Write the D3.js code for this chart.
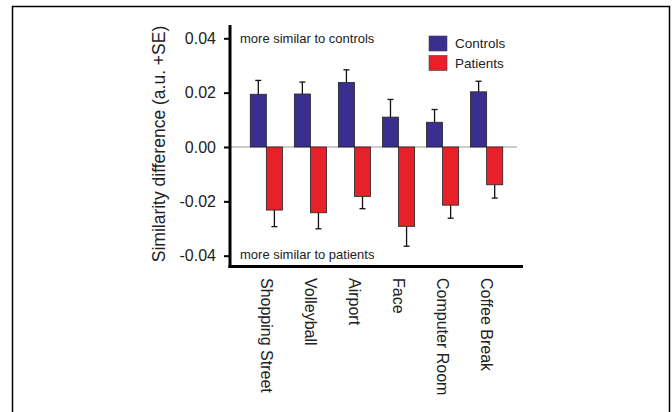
<!DOCTYPE html>
<html>
<head>
<meta charset="utf-8">
<script src="https://cdn.jsdelivr.net/npm/d3@7"></script>
<style>
  body { margin: 0; background: #fff; }
  svg { display: block; font-family: "Liberation Sans", Arial, sans-serif; }
</style>
</head>
<body>
<svg id="chart" width="672" height="412"></svg>
<script>
// data
const scenes = ["Shopping Street", "Volleyball", "Airport", "Face", "Computer Room", "Coffee Break"]
const controls = [0.0194, 0.0195, 0.0237, 0.0110, 0.0091, 0.0203]
const controls_se = [0.0051, 0.0044, 0.0047, 0.0065, 0.0047, 0.0039]
const patients = [-0.0232, -0.0242, -0.0182, -0.0292, -0.0214, -0.0139]
const patients_se = [0.0061, 0.0059, 0.0045, 0.0073, 0.0048, 0.0049]
const yTicks = [-0.04, -0.02, 0, 0.02, 0.04]
const groups = ["Controls", "Patients"]

const colors = { Controls: "#3a2f8e", Patients: "#e8202a" }

let svg = d3.select("#chart")

// outer frame (open at the bottom)
svg.append("path")
    .attr("d", "M12.5,412V6.5H669.5V412")
    .attr("fill", "none")
    .attr("stroke", "#000")
    .attr("stroke-width", 1.5)

let x0 = 230, x1 = 523
let y = d3.scaleLinear()
    .domain([-0.04, 0.04])
    .range([255.7, 38.3])

let x = d3.scaleBand()
    .domain(scenes)
    .range([x0, x1])
    .paddingInner(0.27)
    .paddingOuter(0.46)

let xs = d3.scaleBand()
    .domain(groups)
    .range([0, x.bandwidth()])

let rows = scenes.map((s, i) => [
    { scene: s, group: "Controls", v: controls[i], se: controls_se[i] },
    { scene: s, group: "Patients", v: patients[i], se: patients_se[i] }
]).flat()

// zero line
svg.append("line")
    .attr("x1", x0).attr("x2", 517)
    .attr("y1", y(0)).attr("y2", y(0))
    .attr("stroke", "#999")
    .attr("stroke-width", 1)

// error bars (drawn first so bars sit over the stem)
let err = svg.append("g")
    .selectAll("g")
    .data(rows)
    .join("g")
    .attr("stroke", "#111")
    .attr("stroke-width", 1.3)

err.append("line")
    .attr("x1", d => x(d.scene) + xs(d.group) + xs.bandwidth() / 2)
    .attr("x2", d => x(d.scene) + xs(d.group) + xs.bandwidth() / 2)
    .attr("y1", d => y(d.v))
    .attr("y2", d => y(d.v + Math.sign(d.v) * d.se))

err.append("line")
    .attr("x1", d => x(d.scene) + xs(d.group) + xs.bandwidth() / 2 - 3)
    .attr("x2", d => x(d.scene) + xs(d.group) + xs.bandwidth() / 2 + 3)
    .attr("y1", d => y(d.v + Math.sign(d.v) * d.se))
    .attr("y2", d => y(d.v + Math.sign(d.v) * d.se))

svg.append("g")
    .selectAll("rect")
    .data(rows)
    .join("rect")
    .attr("x", d => x(d.scene) + xs(d.group))
    .attr("width", xs.bandwidth())
    .attr("y", d => Math.min(y(d.v), y(0)))
    .attr("height", d => Math.abs(y(d.v) - y(0)))
    .attr("fill", d => colors[d.group])
    .attr("stroke", "#222")
    .attr("stroke-width", 0.8)

// y axis, plain hyphen for negatives like the original
let fmt = d => d3.format(".2f")(d).replace("\u2212", "-")
let yAxis = svg.append("g")
    .attr("transform", "translate(" + x0 + ",0)")
    .call(d3.axisLeft(y).tickValues(yTicks).tickFormat(fmt).tickSize(6).tickPadding(8))
yAxis.select(".domain").remove()
yAxis.selectAll(".tick line").attr("stroke", "#000").attr("stroke-width", 2)
yAxis.selectAll(".tick text")
    .attr("font-size", 16)
    .attr("fill", "#222")
    .style("font-family", "'Liberation Sans', Arial, sans-serif")

// heavy axis lines
svg.append("line")
    .attr("x1", x0).attr("x2", x0)
    .attr("y1", 25).attr("y2", 268)
    .attr("stroke", "#000").attr("stroke-width", 3)
svg.append("line")
    .attr("x1", x0 - 1.5).attr("x2", x1)
    .attr("y1", 266.5).attr("y2", 266.5)
    .attr("stroke", "#000").attr("stroke-width", 3)

// x labels, rotated
svg.append("g")
    .selectAll("text")
    .data(scenes)
    .join("text")
    .attr("transform", d => "translate(" + (x(d) + x.bandwidth() / 2) + ",278) rotate(90)")
    .attr("dy", "0.35em")
    .attr("font-size", 16)
    .attr("fill", "#222")
    .text(d => d)

// y title
svg.append("text")
    .attr("transform", "translate(165,144) rotate(-90)")
    .attr("text-anchor", "middle")
    .attr("font-size", 17.5)
    .attr("fill", "#222")
    .text("Similarity difference (a.u. +SE)")

// annotations
svg.append("text")
    .attr("x", 240).attr("y", 43)
    .attr("font-size", 13)
    .attr("fill", "#222")
    .text("more similar to controls")
svg.append("text")
    .attr("x", 240).attr("y", 259)
    .attr("font-size", 13)
    .attr("fill", "#222")
    .text("more similar to patients")

// legend
let legend = svg.append("g")
    .selectAll("g")
    .data(groups)
    .join("g")
    .attr("transform", (d, i) => "translate(429," + (36 + i * 19.5) + ")")
legend.append("rect")
    .attr("width", 18).attr("height", 15)
    .attr("fill", d => colors[d])
    .attr("stroke", "#444")
    .attr("stroke-width", 0.6)
legend.append("text")
    .attr("x", 26).attr("y", 12)
    .attr("font-size", 13.5)
    .attr("fill", "#222")
    .text(d => d)
</script>
</body>
</html>
